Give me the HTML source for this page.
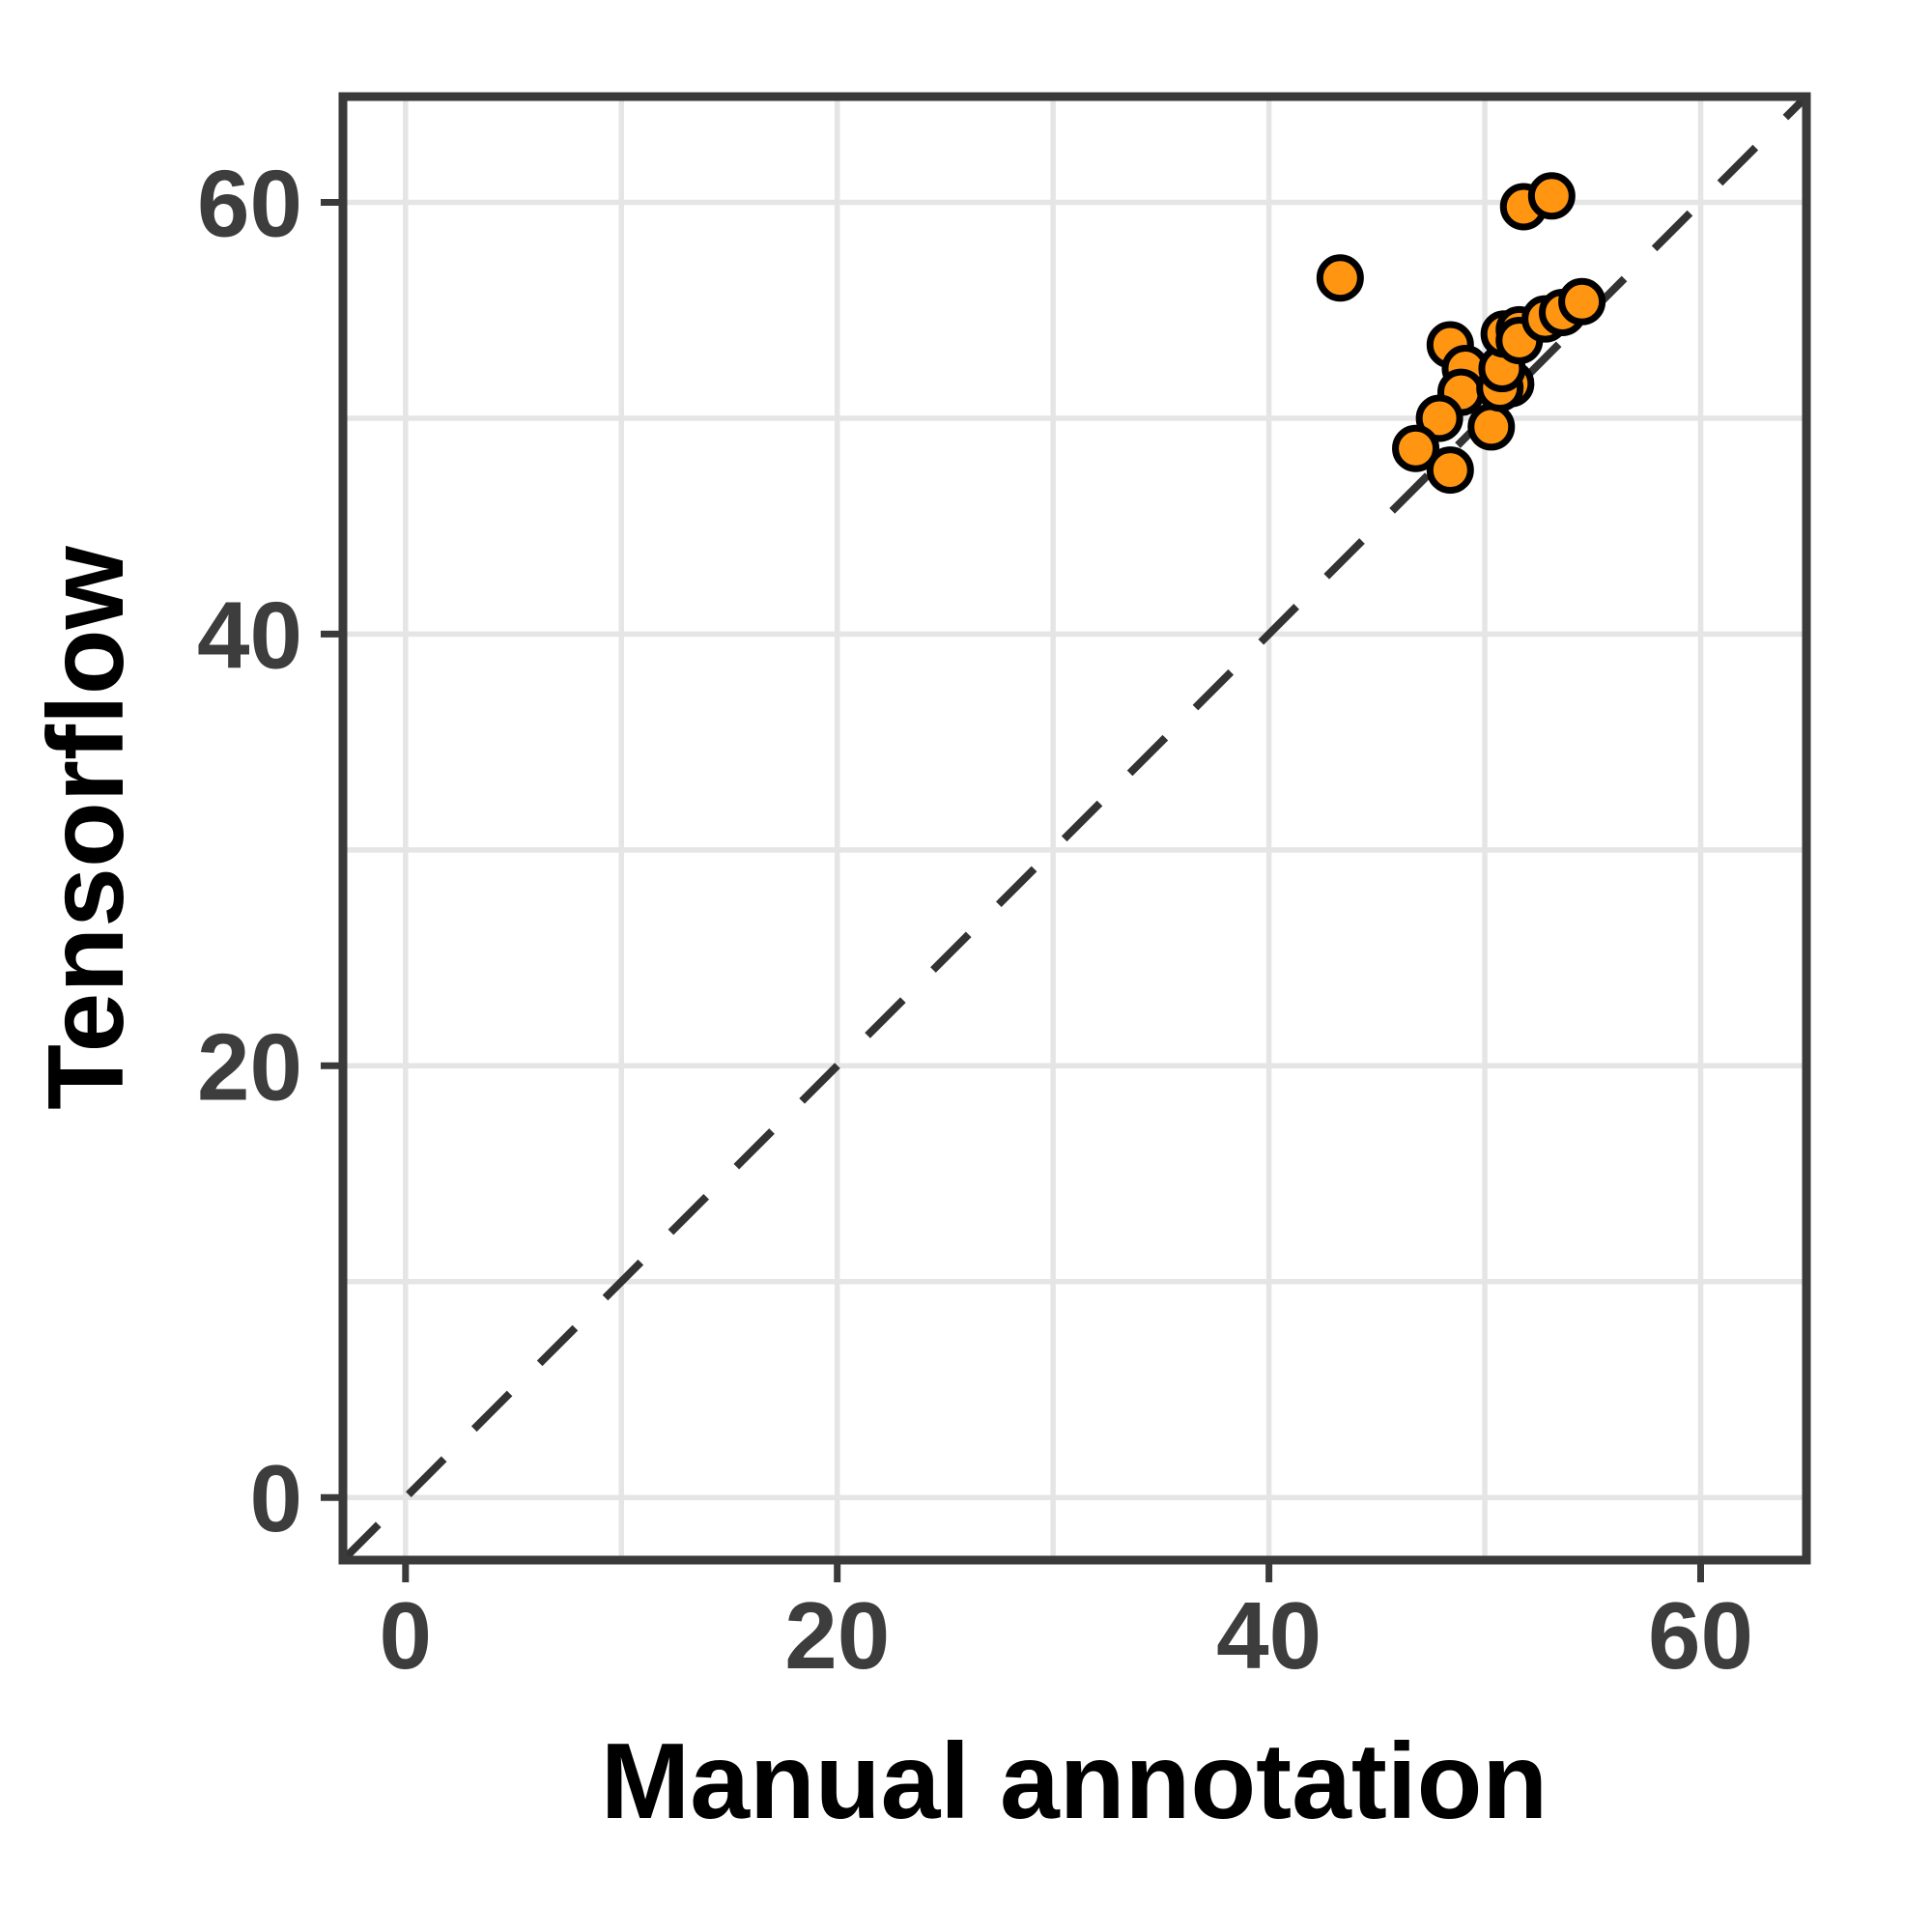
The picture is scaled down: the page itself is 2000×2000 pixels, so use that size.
<!DOCTYPE html>
<html><head><meta charset="utf-8"><style>body{margin:0;background:#fff}svg{display:block}</style></head>
<body>
<svg id="chart" width="2000" height="2000" xmlns="http://www.w3.org/2000/svg" font-family="Liberation Sans, sans-serif" font-weight="bold">
<g id="grid"></g>
<line id="diag" stroke="#333" stroke-width="8" stroke-dasharray="52,44"/>
<g id="pts"></g>
<rect x="355" y="100" width="1515" height="1515" fill="none" stroke="#3a3a3a" stroke-width="9"/>
<g id="ticks"></g>
<text x="1112" y="1882" font-size="111" text-anchor="middle" fill="#000">Manual annotation</text>
<text x="0" y="0" font-size="111" text-anchor="middle" fill="#000" transform="translate(127,857) rotate(-90)">Tensorflow</text>
</svg>
<script>
const xVals=[48.4,49.1,48.9,47.9,46.8,48.4,50.3,51.2,50.7,50.8,50.9,51.6,51.6,52.8,53.6,54.5,43.3,51.8,53.1];
const yVals=[53.4,52.3,51.2,50.0,48.6,47.6,49.6,51.6,51.4,52.3,53.9,54.1,53.6,54.6,54.9,55.4,56.5,59.8,60.3];
const majorTicks=[0,20,40,60];
const minorTicks=[10,30,50];
const tickLabels=["0","20","40","60"];
const domain=[-2.9,64.9];
const L=355,R=1870,T=100,B=1615;
const sx=v=>L+(v-domain[0])/(domain[1]-domain[0])*(R-L);
const sy=v=>B-(v-domain[0])/(domain[1]-domain[0])*(B-T);
const NS="http://www.w3.org/2000/svg";
function mk(tag,attrs,parent){const e=document.createElementNS(NS,tag);for(const k in attrs)e.setAttribute(k,attrs[k]);parent.appendChild(e);return e;}
const grid=document.getElementById('grid');
minorTicks.concat(majorTicks).forEach(t=>{
  const a=mk('line',{x1:sx(t),x2:sx(t),y1:T,y2:B,stroke:'#e5e5e5','stroke-width':5.5},grid);
  
  
  const b=mk('line',{x1:L,x2:R,y1:sy(t),y2:sy(t),stroke:'#e5e5e5','stroke-width':5.5},grid);
  
  
});
const d=document.getElementById('diag');
d.setAttribute('x1',sx(domain[0]));d.setAttribute('y1',sy(domain[0]));
d.setAttribute('x2',sx(domain[1]));d.setAttribute('y2',sy(domain[1]));
const pts=document.getElementById('pts');
xVals.forEach((x,i)=>{
  const c=mk('circle',{cx:sx(x),cy:sy(yVals[i]),r:21,fill:'#ff9510',stroke:'#000','stroke-width':7},pts);
  
  
});
const tk=document.getElementById('ticks');
majorTicks.forEach((t,i)=>{
  const a=mk('line',{x1:sx(t),x2:sx(t),y1:B,y2:B+23,stroke:'#3a3a3a','stroke-width':7},tk);
  
  
  const b=mk('line',{x1:L-23,x2:L,y1:sy(t),y2:sy(t),stroke:'#3a3a3a','stroke-width':7},tk);
  
  
  const tx=mk('text',{x:sx(t),y:1727,'font-size':98,'text-anchor':'middle',fill:'#3d3d3d'},tk);
  tx.textContent=tickLabels[i];
  
  
  const ty=mk('text',{x:313,y:sy(t)+35,'font-size':98,'text-anchor':'end',fill:'#3d3d3d'},tk);
  ty.textContent=tickLabels[i];
  
  
});
</script>
</body></html>
